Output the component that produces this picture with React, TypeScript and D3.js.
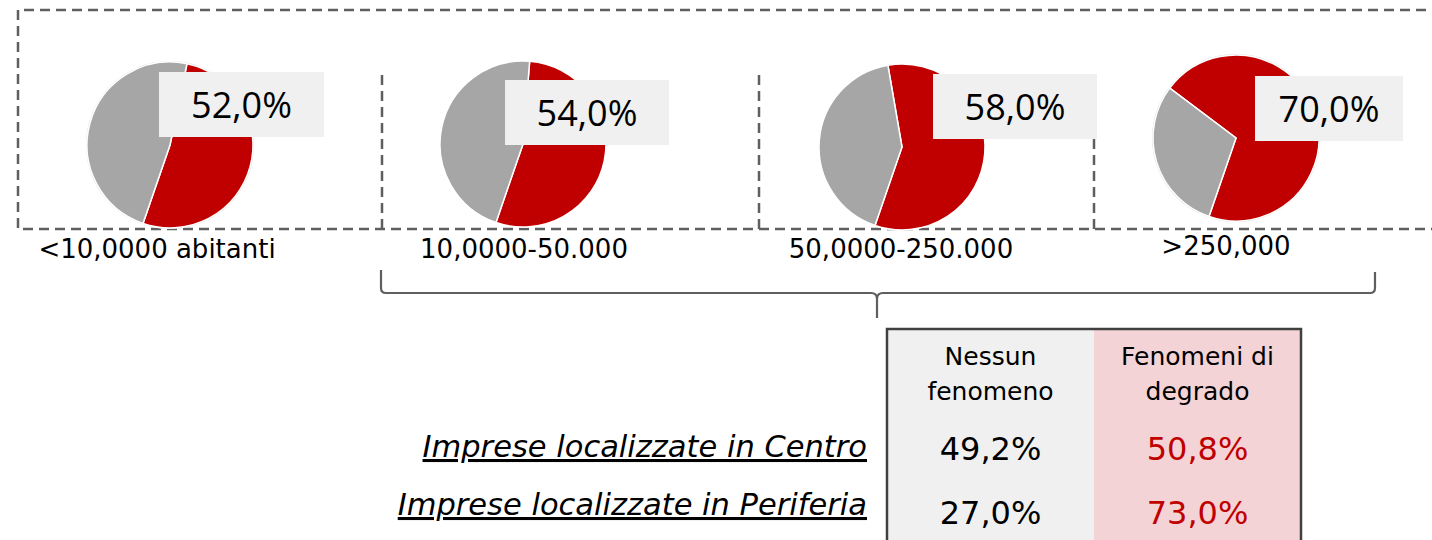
import React from 'react';
import * as d3 from 'd3';

// population classes and share of firms reporting "fenomeni di degrado"
const categories = ['<10,0000 abitanti', '10,0000-50.000', '50,0000-250.000', '>250,000'];
const degradoShare = [52.0, 54.0, 58.0, 70.0];

// summary table
const headerLines = [['Nessun', 'fenomeno'], ['Fenomeni di', 'degrado']];
const rowLabels = ['Imprese localizzate in Centro', 'Imprese localizzate in Periferia'];
const nessunValues = [49.2, 27.0];
const degradoValues = [50.8, 73.0];

const W = 1432;
const H = 540;
const RED = '#C00000';
const GREY = '#A6A6A6';
const DASH = '#5F5F5F';
const FONT = '"DejaVu Sans", Verdana, sans-serif';

const fmt = (v: number) => d3.format('.1f')(v).replace('.', ',') + '%';

export default function App() {
  // panel layout (pies are not evenly spaced in the original)
  const cx = d3.scaleOrdinal<string, number>().domain(categories).range([170, 523, 902, 1236]);
  const cy = d3.scaleOrdinal<string, number>().domain(categories).range([145, 144, 147, 138]);
  const boxX = d3.scaleOrdinal<string, number>().domain(categories).range([159, 505, 933, 1255]);
  const boxY = d3.scaleOrdinal<string, number>().domain(categories).range([72, 80, 74, 76]);
  const boxW = d3.scaleOrdinal<string, number>().domain(categories).range([165, 164, 164, 148]);
  const labelX = d3.scaleOrdinal<string, number>().domain(categories).range([157, 524, 901, 1226]);
  const labelY = d3.scaleOrdinal<string, number>().domain(categories).range([258, 258, 258, 255]);
  const outlined = [true, false, false, true];
  const r = 83;

  const arc = d3.arc<d3.PieArcDatum<number>>().innerRadius(0).outerRadius(r);
  const redEnd = (199 * Math.PI) / 180;

  const colX = d3.scaleBand<number>().domain([0, 1]).range([887, 1301]);
  const rowY = d3.scalePoint<number>().domain([0, 1]).range([460, 524]);
  const labelRowY = d3.scalePoint<number>().domain([0, 1]).range([457, 515]);

  return (
    <svg width={W} height={H} style={{ position: 'absolute', left: 0, top: 0, background: '#fff' }}>
      {/* dashed frame */}
      <g fill="none" stroke={DASH} strokeWidth={2.5} strokeDasharray="10 6">
        <path d={`M${W + 10},10 H18 V229 H${W + 10}`} />
        {[382, 759, 1094].map((x) => (
          <line key={x} x1={x} x2={x} y1={75} y2={229} />
        ))}
      </g>

      {categories.map((c, i) => {
        const red = degradoShare[i];
        const start = redEnd - (red / 100) * 2 * Math.PI;
        const pie = d3
          .pie<number>()
          .sort(null)
          .value((d) => d)
          .startAngle(start)
          .endAngle(start + 2 * Math.PI);
        const arcs = pie([red, 100 - red]);
        return (
          <g key={c}>
            <g transform={`translate(${cx(c)},${cy(c)})`}>
              {outlined[i] && <circle r={r + 1} fill="#D9D9D9" />}
              {arcs.map((a, j) => (
                <path key={j} d={arc(a) || ''} fill={j === 0 ? RED : GREY} stroke="#fff" strokeWidth={1.5} />
              ))}
            </g>
            <rect x={boxX(c)} y={boxY(c)} width={boxW(c)} height={65} fill="#F0F0F0" />
            <text
              x={boxX(c) + boxW(c) / 2}
              y={boxY(c) + 46}
              textAnchor="middle"
              fontFamily={'"Open Sans", sans-serif'}
              fontWeight={500}
              fontSize={36}
              fill="#000"
            >
              {fmt(red)}
            </text>
            <text x={labelX(c)} y={labelY(c)} textAnchor="middle" fontFamily={FONT} fontSize={26} fill="#000">
              {c}
            </text>
          </g>
        );
      })}

      {/* curly bracket */}
      <path
        d="M381,270 V288 Q381,293 386,293 H871 Q877,293 877,299 V318 M877,299 Q877,293 883,293 H1370 Q1375,293 1375,288 V272"
        fill="none"
        stroke="#5F5F5F"
        strokeWidth={2.2}
      />

      {/* table */}
      <rect x={colX(0)} y={329} width={colX.bandwidth()} height={H - 329} fill="#F0F0F0" />
      <rect x={colX(1)} y={329} width={colX.bandwidth()} height={H - 329} fill="#F3D3D5" />
      <path d={`M887,${H + 5} V329 H1301 V${H + 5}`} fill="none" stroke="#404040" strokeWidth={2.5} />

      {headerLines.map((lines, k) =>
        lines.map((t, li) => (
          <text
            key={`${k}-${li}`}
            x={(colX(k) || 0) + colX.bandwidth() / 2}
            y={365 + li * 35}
            textAnchor="middle"
            fontFamily={FONT}
            fontSize={25}
            fill="#000"
          >
            {t}
          </text>
        ))
      )}

      {rowLabels.map((t, i) => (
        <g key={t}>
          <text
            x={867}
            y={labelRowY(i)}
            textAnchor="end"
            fontFamily={FONT}
            fontStyle="italic"
            fontSize={30.5}
            fill="#000"
            style={{ textDecoration: 'underline' }}
          >
            {t}
          </text>
          <text
            x={(colX(0) || 0) + colX.bandwidth() / 2}
            y={rowY(i)}
            textAnchor="middle"
            fontFamily={FONT}
            fontSize={32}
            fill="#000"
          >
            {fmt(nessunValues[i])}
          </text>
          <text
            x={(colX(1) || 0) + colX.bandwidth() / 2}
            y={rowY(i)}
            textAnchor="middle"
            fontFamily={FONT}
            fontSize={32}
            fill={RED}
          >
            {fmt(degradoValues[i])}
          </text>
        </g>
      ))}
    </svg>
  );
}
